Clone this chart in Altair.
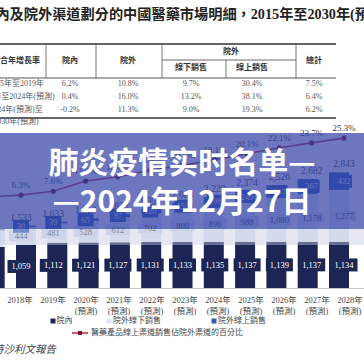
import altair as alt
import pandas as pd

# ---------------- data ----------------
years = [2017, 2018, 2019, 2020, 2021, 2022, 2023, 2024, 2025, 2026, 2027, 2028]
inpatient = [1010, 1059, 1112, 1121, 1127, 1131, 1133, 1135, 1137, 1139, 1137, 1134]
offline = [410, 444, 481, 528, 612, 702, 800, 896, 988, 1080, 1178, 1277]
online = [25, 30, 39, 65, 87, 120, 155, 198, 249, 307, 367, 432]
totals = [1445, 1533, 1633, 1714, 1826, 1953, 2088, 2229, 2374, 2526, 2682, 2843]
share = [5.7, 6.3, 7.6, 11.0, 12.4, 14.6, 16.2, 18.1, 20.1, 22.1, 23.7, 25.3]
forecast = [False, False, False, True, True, True, True, True, True, True, True, True]

table_title = "按院內及院外渠道劃分的中國醫藥市場明細，2015年至2030年(預測)"
table_headers = ["複合年增長率", "院內", "院外", "線下銷售", "線上銷售", "總計"]
table_group = "院外"
table_rows = ["2015年至2019年", "2019年至2024年(預測)", "2024年(預測)至\n2030年(預測)"]
cagr = [
    ["6.2%", "10.8%", "9.7%", "30.4%", "7.5%"],
    ["0.4%", "16.0%", "13.2%", "38.1%", "6.4%"],
    ["-0.2%", "11.3%", "9.0%", "19.3%", "6.2%"],
]
legend_bars = ["院內", "院外線下銷售", "院外線上銷售"]
legend_line = "醫藥產品線上渠道銷售佔院外渠道的百分比"
source = "資料來源：弗若斯特沙利文報告"
overlay_lines = ["肺炎疫情实时名单—", "—2024年12月27日"]

# ---------------- styles ----------------
NAVY = "#1c2553"
LIGHT = "#dfe7f4"
LIGHT_BOX = "#d3ddee"
BLUE = "#2d5ab3"
RED = "#c23048"
DARKRED = "#6b1028"
TXT = "#3a3a3a"
SERIF = "Liberation Serif, Noto Sans CJK TC"

df = pd.DataFrame({
    "year": years, "inpatient": inpatient, "offline": offline, "online": online,
    "total": totals, "share": share, "forecast": forecast,
})
df["b0"] = 0
df["b1"] = df["inpatient"]
df["b2"] = df["b1"] + df["offline"]
df["b3"] = df["b2"] + df["online"]
df["m1"] = df["inpatient"] / 2
df["m2"] = df["b1"] + df["offline"] / 2
df["m3"] = df["b2"] + df["online"] / 2
df["ylabel"] = [f"{y}年" for y in years]
df["fc"] = ["(預測)" if f else "" for f in forecast]
df["share_lbl"] = [f"{s:.1f}%" for s in share]

xs = alt.Scale(domain=[2018, 2028], range=[21, 344], nice=False, zero=False)
xl = alt.Scale(domain=[2018, 2028], range=[20, 350], nice=False, zero=False)
yb = alt.Scale(domain=[0, 3000], range=[288, 166], nice=False, zero=False)
yl = alt.Scale(domain=[0, 30], range=[214, 124], nice=False, zero=False)

X = alt.X("year:Q", scale=xs, axis=None)


def YB(f):
    return alt.Y(f"{f}:Q", scale=yb, axis=None)


def box(w, h):
    r = h / w
    return f"M-1,-{r:.3f}L1,-{r:.3f}L1,{r:.3f}L-1,{r:.3f}Z"


one = pd.DataFrame({"a": [0]})


def label(text, x, y, size, align="left", color=TXT, font=SERIF, **kw):
    return alt.Chart(pd.DataFrame({"t": [text]})).mark_text(
        align=align, fontSize=size, font=font, color=color, **kw
    ).encode(x=alt.value(x), y=alt.value(y), text="t:N")


def hrule(x1, x2, y, w=1.0, color="#444"):
    return alt.Chart(one).mark_rule(color=color, strokeWidth=w).encode(
        x=alt.value(x1), x2=alt.value(x2), y=alt.value(y))


def vrule(x, y1, y2, w=0.8, color="#555"):
    return alt.Chart(one).mark_rule(color=color, strokeWidth=w).encode(
        x=alt.value(x), y=alt.value(y1), y2=alt.value(y2))


layers = []

# ---------------- title & table ----------------
layers.append(label(table_title, -33, 15, 14.2, color="#222", fontWeight="bold"))
layers += [
    hrule(0, 336, 44, 1.3, "#333"),
    hrule(162, 296, 60, 0.8),
    hrule(0, 336, 78, 0.9),
    hrule(0, 336, 118, 1.3, "#333"),
    vrule(46, 44, 78), vrule(96, 44, 78), vrule(162, 44, 78), vrule(296, 44, 78),
    vrule(226, 60, 78),
]
tx = alt.Scale(domain=[0, 1, 2, 3, 4, 5], range=[16, 70, 128, 191, 252, 314], nice=False, zero=False)
ty = alt.Scale(domain=[0, 1, 2], range=[84, 97, 110], nice=False, zero=False)
hy = alt.Scale(domain=[0, 1], range=[61, 68], nice=False, zero=False)

hdr = pd.DataFrame({"name": table_headers, "col": [0, 1, 2, 3, 4, 5], "lvl": [0, 0, 0, 1, 1, 0]})
layers.append(alt.Chart(hdr).mark_text(font=SERIF, fontSize=8, fontWeight="bold", color="#333").encode(
    x=alt.X("col:Q", scale=tx, axis=None), y=alt.Y("lvl:Q", scale=hy, axis=None), text="name:N"))
layers.append(label(table_group, 231, 52, 8, align="center", color="#333", fontWeight="bold"))

tbl = pd.DataFrame([{"row": r, "col": c + 1, "v": cagr[r][c]} for r in range(3) for c in range(5)])
layers.append(alt.Chart(tbl).mark_text(font=SERIF, fontSize=8, color="#555").encode(
    x=alt.X("col:Q", scale=tx, axis=None), y=alt.Y("row:Q", scale=ty, axis=None), text="v:N"))
rl = pd.DataFrame({"row": [0, 1, 2], "col": [0, 0, 0], "t": table_rows})
layers.append(alt.Chart(rl).mark_text(font=SERIF, fontSize=8, color="#555", lineBreak="\n", lineHeight=12).encode(
    x=alt.X("col:Q", scale=tx, axis=None), y=alt.Y("row:Q", scale=ty, axis=None), text="t:N"))

# ---------------- bar chart ----------------
layers.append(hrule(0, 364, 288.5, 1, "#c8c8c8"))
layers.append(alt.Chart(df).mark_bar(size=20, color=NAVY).encode(x=X, y=YB("b0"), y2=alt.Y2("b1")))
layers.append(alt.Chart(df).mark_bar(size=20, color=LIGHT).encode(x=X, y=YB("b1"), y2=alt.Y2("b2")))
layers.append(alt.Chart(df).mark_bar(size=20, color=BLUE).encode(x=X, y=YB("b2"), y2=alt.Y2("b3")))

layers.append(alt.Chart(df).mark_point(shape=box(27, 13), size=27 ** 2, filled=True, color=NAVY,
                                       opacity=1, strokeWidth=0).encode(x=X, y=YB("m1")))
layers.append(alt.Chart(df).mark_text(font=SERIF, fontSize=8.5, color="white").encode(
    x=X, y=YB("m1"), text=alt.Text("inpatient:Q", format=",")))
layers.append(alt.Chart(df).mark_point(shape=box(24, 11), size=24 ** 2, filled=True, color=LIGHT_BOX,
                                       opacity=1, strokeWidth=0).encode(x=X, y=YB("m2")))
layers.append(alt.Chart(df).mark_text(font=SERIF, fontSize=8.5, color="#444").encode(
    x=X, y=YB("m2"), text=alt.Text("offline:Q", format=",")))
layers.append(alt.Chart(df).mark_point(shape=box(16, 13), size=16 ** 2, filled=True, color=BLUE,
                                       opacity=1, strokeWidth=0).encode(x=X, y=YB("m3")))
layers.append(alt.Chart(df).mark_text(font=SERIF, fontSize=8.5, color="#eef2fb").encode(
    x=X, y=YB("m3"), text=alt.Text("online:Q", format=",")))
layers.append(alt.Chart(df).mark_text(font=SERIF, fontSize=9.5, color=TXT, baseline="bottom", dy=-3).encode(
    x=X, y=YB("b3"), text=alt.Text("total:Q", format=",")))

# line
YL = alt.Y("share:Q", scale=yl, axis=None)
layers.append(alt.Chart(df).mark_line(color=RED, strokeWidth=1.6).encode(x=X, y=YL))
layers.append(alt.Chart(df).mark_point(filled=True, size=26, color=DARKRED, opacity=1).encode(x=X, y=YL))
layers.append(alt.Chart(df).mark_text(font=SERIF, fontSize=9, color=TXT, baseline="bottom", dy=-5).encode(
    x=X, y=YL, text="share_lbl:N"))

# x labels
XL = alt.X("year:Q", scale=xl, axis=None)
layers.append(alt.Chart(df).transform_filter("datum.year >= 2018").mark_text(
    font=SERIF, fontSize=8.5, color="#444").encode(x=XL, y=alt.value(300), text="ylabel:N"))
layers.append(alt.Chart(df).transform_filter("datum.year >= 2018").mark_text(
    font=SERIF, fontSize=8.5, color="#444").encode(x=XL, y=alt.value(311), text="fc:N"))


# legend
def sq(x, y, color, s=5):
    return alt.Chart(one).mark_point(shape="square", size=s * s, filled=True, color=color,
                                     opacity=1, strokeWidth=0).encode(x=alt.value(x), y=alt.value(y))


layers += [
    sq(53, 321, NAVY), label(legend_bars[0], 56.5, 321, 8, color="#444"),
    sq(109, 321, LIGHT), label(legend_bars[1], 113, 321, 8, color="#444"),
    sq(214, 321, BLUE), label(legend_bars[2], 218, 321, 8, color="#444"),
    hrule(72, 88, 333, 1.6, RED), sq(80, 333, DARKRED, 4),
    label(legend_line, 91, 333, 8, color="#444"),
    label(source, 56, 350, 10.5, align="right", color="#444", fontStyle="italic"),
]

# ---------------- overlay band ----------------
layers.append(alt.Chart(one).mark_rect(color="#3343a8", opacity=0.72).encode(
    x=alt.value(0), x2=alt.value(364), y=alt.value(133), y2=alt.value(229)))
layers.append(alt.Chart(one).mark_rect(color="#c5c9e2", opacity=0.45).encode(
    x=alt.value(0), x2=alt.value(364), y=alt.value(229), y2=alt.value(245)))
layers.append(label(overlay_lines[0], 182, 164, 30, align="center", color="white",
                    font="Noto Sans CJK SC", fontWeight="bold"))
layers.append(label(overlay_lines[1], 182, 203, 30, align="center", color="white",
                    font="Noto Sans CJK SC", fontWeight="bold"))

chart = alt.layer(*layers).resolve_scale(x="independent", y="independent").properties(
    width=364, height=364, padding=0, autosize=alt.AutoSizeParams(type="none"),
    background="white",
).configure_view(stroke=None)

chart.save("out.html", embed_options={"renderer": "svg", "actions": False})
